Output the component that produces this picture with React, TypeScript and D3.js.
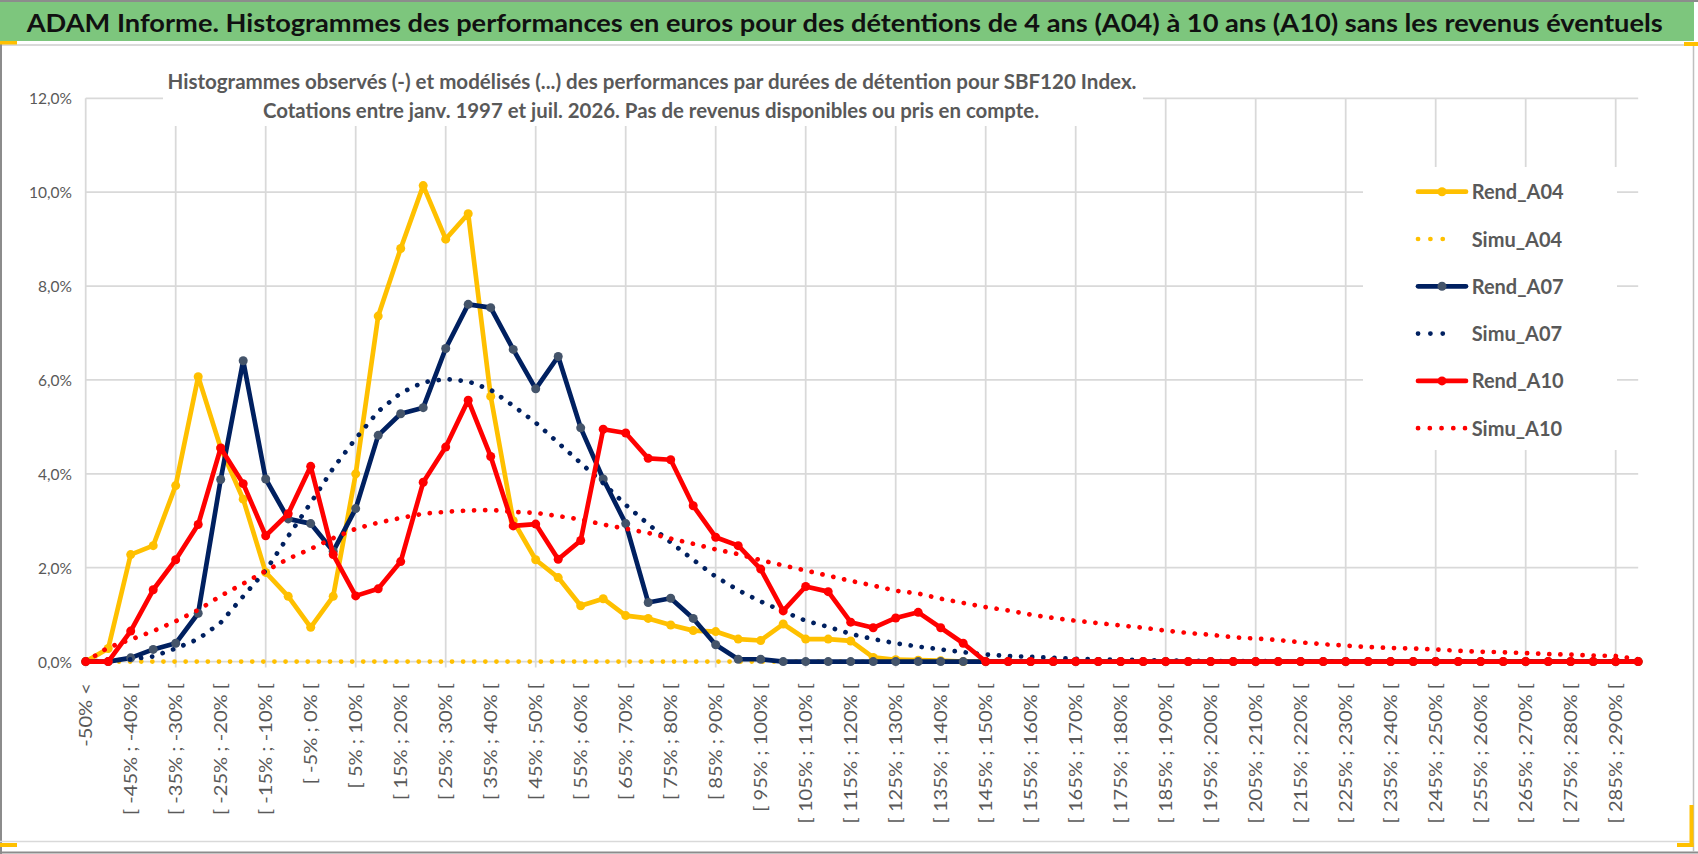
import React from 'react';
import * as d3 from 'd3';

const categories: string[] = [
  "-50% <", "[ -50% ; -45% [", "[ -45% ; -40% [", "[ -40% ; -35% [", "[ -35% ; -30% [",
  "[ -30% ; -25% [", "[ -25% ; -20% [", "[ -20% ; -15% [", "[ -15% ; -10% [", "[ -10% ; -5% [",
  "[ -5% ; 0% [", "[ 0% ; 5% [", "[ 5% ; 10% [", "[ 10% ; 15% [", "[ 15% ; 20% [",
  "[ 20% ; 25% [", "[ 25% ; 30% [", "[ 30% ; 35% [", "[ 35% ; 40% [", "[ 40% ; 45% [",
  "[ 45% ; 50% [", "[ 50% ; 55% [", "[ 55% ; 60% [", "[ 60% ; 65% [", "[ 65% ; 70% [",
  "[ 70% ; 75% [", "[ 75% ; 80% [", "[ 80% ; 85% [", "[ 85% ; 90% [", "[ 90% ; 95% [",
  "[ 95% ; 100% [", "[ 100% ; 105% [", "[ 105% ; 110% [", "[ 110% ; 115% [", "[ 115% ; 120% [",
  "[ 120% ; 125% [", "[ 125% ; 130% [", "[ 130% ; 135% [", "[ 135% ; 140% [", "[ 140% ; 145% [",
  "[ 145% ; 150% [", "[ 150% ; 155% [", "[ 155% ; 160% [", "[ 160% ; 165% [", "[ 165% ; 170% [",
  "[ 170% ; 175% [", "[ 175% ; 180% [", "[ 180% ; 185% [", "[ 185% ; 190% [", "[ 190% ; 195% [",
  "[ 195% ; 200% [", "[ 200% ; 205% [", "[ 205% ; 210% [", "[ 210% ; 215% [", "[ 215% ; 220% [",
  "[ 220% ; 225% [", "[ 225% ; 230% [", "[ 230% ; 235% [", "[ 235% ; 240% [", "[ 240% ; 245% [",
  "[ 245% ; 250% [", "[ 250% ; 255% [", "[ 255% ; 260% [", "[ 260% ; 265% [", "[ 265% ; 270% [",
  "[ 270% ; 275% [", "[ 275% ; 280% [", "[ 280% ; 285% [", "[ 285% ; 290% [", "[ 290% ; 295% ["
];

const rendA04: number[] = [
  0.00, 0.28, 2.28, 2.47, 3.75, 6.07, 4.55, 3.46, 1.90, 1.39,
  0.73, 1.39, 4.00, 7.36, 8.80, 10.14, 9.00, 9.54, 5.65, 3.00,
  2.17, 1.79, 1.19, 1.34, 0.98, 0.92, 0.78, 0.66, 0.64, 0.48,
  0.45, 0.80, 0.48, 0.48, 0.44, 0.09, 0.04, 0.03, 0.02, 0,
  0, 0, 0, 0, 0, 0, 0, 0, 0, 0,
  0, 0, 0, 0, 0, 0, 0, 0, 0, 0,
  0, 0, 0, 0, 0, 0, 0, 0, 0, 0
];

const simuA04: number[] = [
  0, 0, 0, 0, 0, 0, 0, 0, 0, 0,
  0, 0, 0, 0, 0, 0, 0, 0, 0, 0,
  0, 0, 0, 0, 0, 0, 0, 0, 0, 0,
  0, 0, 0, 0, 0, 0, 0, 0, 0, 0,
  0, 0, 0, 0, 0, 0, 0, 0, 0, 0,
  0, 0, 0, 0, 0, 0, 0, 0, 0, 0,
  0, 0, 0, 0, 0, 0, 0, 0, 0, 0
];

const rendA07: number[] = [
  0, 0, 0.08, 0.26, 0.39, 1.03, 3.88, 6.41, 3.89, 3.04,
  2.94, 2.35, 3.26, 4.82, 5.28, 5.41, 6.67, 7.61, 7.54, 6.65,
  5.81, 6.50, 4.98, 3.89, 2.94, 1.26, 1.35, 0.92, 0.36, 0.05,
  0.05, 0, 0, 0, 0, 0, 0, 0, 0, 0,
  0, 0, 0, 0, 0, 0, 0, 0, 0, 0,
  0, 0, 0, 0, 0, 0, 0, 0, 0, 0,
  0, 0, 0, 0, 0, 0, 0, 0, 0, 0
];

const simuA07: number[] = [
  0.00, 0.02, 0.05, 0.11, 0.28, 0.48, 0.83, 1.39, 1.94, 2.67,
  3.38, 4.12, 4.75, 5.33, 5.72, 5.95, 6.02, 5.97, 5.79, 5.45,
  5.09, 4.66, 4.23, 3.80, 3.34, 2.93, 2.54, 2.17, 1.81, 1.52,
  1.28, 1.07, 0.87, 0.74, 0.59, 0.48, 0.39, 0.32, 0.26, 0.20,
  0.15, 0.12, 0.10, 0.08, 0.06, 0.05, 0.04, 0.03, 0.025, 0.02,
  0.015, 0.01, 0.01, 0.008, 0.006, 0.005, 0.004, 0.003, 0.002, 0.002,
  0.001, 0.001, 0, 0, 0, 0, 0, 0, 0, 0
];

const rendA10: number[] = [
  0, 0, 0.65, 1.53, 2.17, 2.92, 4.55, 3.79, 2.68, 3.15,
  4.16, 2.28, 1.40, 1.55, 2.13, 3.82, 4.57, 5.57, 4.37, 2.89,
  2.93, 2.18, 2.58, 4.95, 4.87, 4.33, 4.30, 3.32, 2.65, 2.47,
  1.97, 1.08, 1.60, 1.49, 0.84, 0.72, 0.93, 1.05, 0.72, 0.39,
  0, 0, 0, 0, 0, 0, 0, 0, 0, 0,
  0, 0, 0, 0, 0, 0, 0, 0, 0, 0,
  0, 0, 0, 0, 0, 0, 0, 0, 0, 0
];

const simuA10: number[] = [
  0.00, 0.30, 0.47, 0.65, 0.86, 1.10, 1.40, 1.66, 1.93, 2.19,
  2.40, 2.63, 2.83, 2.96, 3.06, 3.15, 3.19, 3.22, 3.23, 3.19,
  3.17, 3.10, 3.03, 2.92, 2.83, 2.74, 2.62, 2.51, 2.39, 2.29,
  2.16, 2.05, 1.94, 1.83, 1.72, 1.62, 1.51, 1.45, 1.34, 1.25,
  1.16, 1.09, 1.00, 0.93, 0.87, 0.82, 0.77, 0.72, 0.66, 0.61,
  0.57, 0.52, 0.49, 0.46, 0.41, 0.37, 0.34, 0.31, 0.29, 0.28,
  0.26, 0.23, 0.21, 0.20, 0.18, 0.16, 0.15, 0.13, 0.12, 0.05
];

const yTicks: number[] = [0, 2, 4, 6, 8, 10, 12];

const titleText = "ADAM Informe. Histogrammes des performances en euros pour des détentions de 4 ans (A04) à 10 ans (A10) sans les revenus éventuels";
const subtitle1 = "Histogrammes observés (-) et modélisés (...) des performances par durées de détention pour SBF120 Index.";
const subtitle2 = "Cotations entre janv. 1997 et juil. 2026. Pas de revenus disponibles ou pris en compte.";

type Series = { name: string; values: number[]; color: string; dotted: boolean; marker?: string };

const series: Series[] = [
  { name: "Rend_A04", values: rendA04, color: "#FFC000", dotted: false, marker: "#FFC000" },
  { name: "Simu_A04", values: simuA04, color: "#FFC000", dotted: true },
  { name: "Rend_A07", values: rendA07, color: "#002060", dotted: false, marker: "#44546A" },
  { name: "Simu_A07", values: simuA07, color: "#002060", dotted: true },
  { name: "Rend_A10", values: rendA10, color: "#FF0000", dotted: false, marker: "#FF0000" },
  { name: "Simu_A10", values: simuA10, color: "#FF0000", dotted: true },
];

const W = 1698;
const H = 854;
const X0 = 85.7;
const X1 = 1638.2;
const YB = 661.6;
const YT = 98.3;
const FONT = "Lato, 'Open Sans', 'Liberation Sans', sans-serif";
const GRID = "#D9D9D9";
const TXT = "#595959";

export default function App() {
  const x = d3.scalePoint<string>().domain(categories).range([X0, X1]);
  const y = d3.scaleLinear().domain([0, 12]).range([YB, YT]);
  const lineGen = d3
    .line<number>()
    .x((_, i) => x(categories[i]) as number)
    .y((d) => y(d));

  const fmt = (v: number) => v.toFixed(1).replace(".", ",") + "%";

  const legendY0 = 191.7;
  const legendDY = 47.3;

  return (
    <div style={{ position: "absolute", left: 0, top: 0 }}>
      <svg width={W} height={H} viewBox={`0 0 ${W} ${H}`} style={{ display: "block", background: "#fff" }}>
        <rect x={0} y={0} width={W} height={H} fill="#fff" />
        {/* title band */}
        <rect x={0} y={2} width={1694} height={39} fill="#7DC67D" />
        <line x1={0} x2={W} y1={1} y2={1} stroke="#8C8C8C" strokeWidth={2} />
        <text
          x={26.7}
          y={31.7}
          fontFamily={FONT}
          fontWeight="bold"
          fontSize={25}
          fill="#111"
          textLength={1636}
          lengthAdjust="spacingAndGlyphs"
        >
          {titleText}
        </text>
        {/* frame lines */}
        <line x1={0} x2={1694} y1={45} y2={45} stroke={GRID} strokeWidth={2} />
        <line x1={1} x2={1} y1={44} y2={H} stroke="#8C8C8C" strokeWidth={2} />
        <line x1={0} x2={1694} y1={841.5} y2={841.5} stroke={GRID} strokeWidth={1.5} />
        <line x1={0} x2={W} y1={852.5} y2={852.5} stroke="#8C8C8C" strokeWidth={2} />
        <line x1={1693.5} x2={1693.5} y1={44} y2={852} stroke="#BFBFBF" strokeWidth={1.5} />
        {/* yellow corner marks */}
        <rect x={0} y={41} width={17} height={3.5} fill="#FFC000" />
        <rect x={0} y={843} width={17} height={4} fill="#FFC000" />
        <rect x={1684} y={42} width={14} height={4} fill="#FFC000" />
        <rect x={1689.5} y={805} width={4} height={42} fill="#FFC000" />
        <rect x={1677} y={843} width={16.5} height={4} fill="#FFC000" />

        {/* horizontal gridlines */}
        {yTicks.map((t) => (
          <line key={"h" + t} x1={X0} x2={X1} y1={y(t)} y2={y(t)} stroke={GRID} strokeWidth={1.75} />
        ))}
        {/* vertical gridlines */}
        {categories.map((c, i) =>
          i % 4 === 0 ? (
            <line key={"v" + i} x1={x(c)} x2={x(c)} y1={YT} y2={YB + 6} stroke={GRID} strokeWidth={1.75} />
          ) : null
        )}

        {/* subtitle box */}
        <rect x={163} y={52} width={980} height={74} fill="#fff" />
        <text x={652} y={89.3} textAnchor="middle" fontFamily={FONT} fontWeight="bold" fontSize={21} fill={TXT}
          textLength={969} lengthAdjust="spacingAndGlyphs">
          {subtitle1}
        </text>
        <text x={651} y={118.3} textAnchor="middle" fontFamily={FONT} fontWeight="bold" fontSize={21} fill={TXT}
          textLength={776} lengthAdjust="spacingAndGlyphs">
          {subtitle2}
        </text>

        {/* y labels */}
        {yTicks.map((t) => (
          <text key={"yl" + t} x={72} y={y(t)} textAnchor="end" dominantBaseline="central"
            fontFamily={FONT} fontSize={15.5} fill={TXT}>
            {fmt(t)}
          </text>
        ))}

        {/* x labels */}
        {categories.map((c, i) =>
          i % 2 === 0 ? (
            <text key={"xl" + i}
              transform={`translate(${x(c)},683) rotate(-90) scale(1.22,1)`}
              textAnchor="end" dominantBaseline="central"
              fontFamily={FONT} fontSize={16.5} fill={TXT}>
              {c}
            </text>
          ) : null
        )}

        {/* legend box */}
        <rect x={1363} y={167} width={254} height={283} fill="#fff" />

        {/* series */}
        {series.map((s) => (
          <g key={s.name}>
            <path
              d={lineGen(s.values) as string}
              fill="none"
              stroke={s.color}
              strokeWidth={4.7}
              strokeLinecap="round"
              strokeLinejoin="round"
              strokeDasharray={s.dotted ? "0.1 11" : undefined}
            />
            {!s.dotted &&
              s.values.map((v, i) => (
                <circle key={i} cx={x(categories[i])} cy={y(v)} r={4.5} fill={s.marker} />
              ))}
          </g>
        ))}

        {/* legend */}
        {series.map((s, k) => {
          const cy = legendY0 + k * legendDY;
          return (
            <g key={"lg" + s.name}>
              {s.dotted ? (
                <line x1={1418} x2={k === 5 ? 1465 : 1455} y1={cy} y2={cy} stroke={s.color} strokeWidth={4.7}
                  strokeLinecap="round" strokeDasharray={k === 5 ? "0.1 11.65" : "0.1 12.25"} />
              ) : (
                <>
                  <line x1={1418} x2={1466} y1={cy} y2={cy} stroke={s.color} strokeWidth={4.7} strokeLinecap="round" />
                  <circle cx={1442} cy={cy} r={4.5} fill={s.marker} />
                </>
              )}
              <text x={1471.7} y={cy + 7.5} fontFamily={FONT} fontWeight="bold" fontSize={20} fill={TXT}>
                {s.name}
              </text>
            </g>
          );
        })}
      </svg>
    </div>
  );
}
